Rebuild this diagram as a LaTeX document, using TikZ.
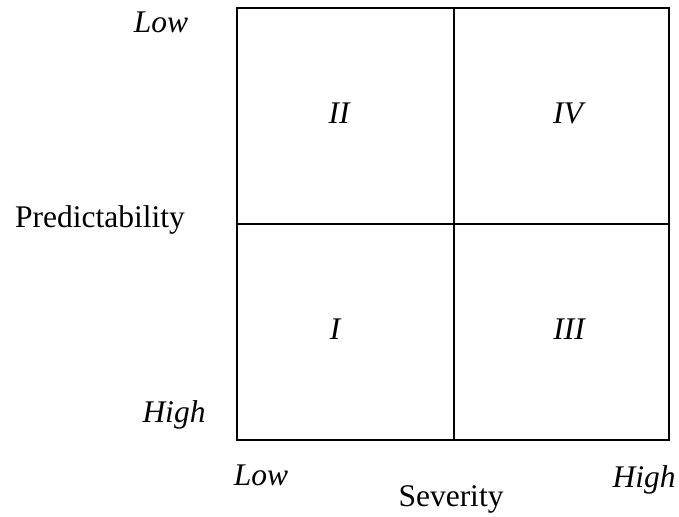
\documentclass[tikz,border=0pt]{standalone}
\usepackage{fontspec}
\setmainfont{Liberation Serif}
\usetikzlibrary{positioning}

\begin{document}
\begin{tikzpicture}[x=1pt,y=-1pt,line cap=rect,line join=miter,
  every node/.style={inner sep=0pt,outer sep=0pt,anchor=base,font=\fontsize{31.5}{36}\selectfont},
  levellabel/.style={font=\fontsize{31.5}{36}\selectfont\itshape}]
  \useasboundingbox (0,0) rectangle (679,516);
  \coordinate (TL) at (237,8);\coordinate (BR) at (669,440);
  \coordinate (MT) at (454,8);\coordinate (MB) at (454,440);
  \coordinate (ML) at (237,224);\coordinate (MR) at (669,224);
  \draw[line width=2pt] (TL) rectangle (BR);
  \draw[line width=2pt] (MT)--(MB);
  \draw[line width=2pt] (ML)--(MR);
  \node[levellabel] (qII) at (339,123) {II};\node[levellabel] (qIV) at (568,123) {IV};
  \node[levellabel] (qI) at (335,339) {I};\node[levellabel] (qIII) at (569,339) {III};
  \node[levellabel] (predlow) at (161,33) {Low};\node[levellabel] (predhigh) at (174,422) {High};
  \node (pred) at (100,227) {Predictability};
  \node[levellabel] (sevlow) at (261,485) {Low};\node[levellabel] (sevhigh) at (644,487) {High};
  \node (sev) at (451,506) {Severity};
\end{tikzpicture}
\end{document}
